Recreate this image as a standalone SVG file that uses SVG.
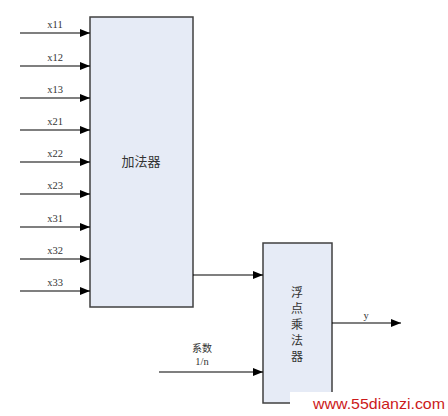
<svg xmlns="http://www.w3.org/2000/svg" width="448" height="416" viewBox="0 0 448 416">
<style>
.box{fill:#e6ebf6;stroke:#404040;stroke-width:1.5}
.ln{stroke:#000;stroke-width:1.2;fill:none}
.lbl{font-family:"Liberation Serif","Noto Sans CJK SC",serif;font-size:10.5px;fill:#333;text-anchor:middle}
.cn{font-family:"Noto Sans CJK SC",sans-serif;font-size:13px;fill:#333;text-anchor:middle}
.cv{font-family:"Noto Sans CJK SC",sans-serif;font-size:12px;fill:#333;text-anchor:middle}
.cn2{font-family:"Noto Sans CJK SC",sans-serif;font-size:10px;fill:#333;text-anchor:middle}
</style>
<defs>
<marker id="ah" markerWidth="10" markerHeight="8" refX="10" refY="4" orient="auto" markerUnits="userSpaceOnUse">
<path d="M0,0 L10,4 L0,8 z" fill="#000"/>
</marker>
</defs>
<rect width="448" height="416" fill="#fff"/>
<g id="adder">
<rect class="box" x="90" y="17" width="103" height="290"/>
<text class="cn" x="141" y="166">加法器</text>
</g>
<g id="multiplier">
<rect class="box" x="263" y="243" width="69" height="160"/>
<text class="cv" x="297" y="297">浮</text>
<text class="cv" x="297" y="313">点</text>
<text class="cv" x="297" y="329">乘</text>
<text class="cv" x="297" y="345">法</text>
<text class="cv" x="297" y="361">器</text>
</g>
<g id="connectors">
<line class="ln" x1="20" y1="33" x2="90" y2="33" marker-end="url(#ah)"/>
<line class="ln" x1="20" y1="66" x2="90" y2="66" marker-end="url(#ah)"/>
<line class="ln" x1="20" y1="98" x2="90" y2="98" marker-end="url(#ah)"/>
<line class="ln" x1="20" y1="130" x2="90" y2="130" marker-end="url(#ah)"/>
<line class="ln" x1="20" y1="162" x2="90" y2="162" marker-end="url(#ah)"/>
<line class="ln" x1="20" y1="194" x2="90" y2="194" marker-end="url(#ah)"/>
<line class="ln" x1="20" y1="227" x2="90" y2="227" marker-end="url(#ah)"/>
<line class="ln" x1="20" y1="259" x2="90" y2="259" marker-end="url(#ah)"/>
<line class="ln" x1="20" y1="291" x2="90" y2="291" marker-end="url(#ah)"/>
<line class="ln" x1="193" y1="275" x2="263" y2="275" marker-end="url(#ah)"/>
<line class="ln" x1="159" y1="372" x2="263" y2="372" marker-end="url(#ah)"/>
<line class="ln" x1="332" y1="323" x2="401" y2="323" marker-end="url(#ah)"/>
</g>
<g id="labels">
<text class="lbl" x="55" y="28">x11</text>
<text class="lbl" x="55" y="61">x12</text>
<text class="lbl" x="55" y="93">x13</text>
<text class="lbl" x="55" y="125">x21</text>
<text class="lbl" x="55" y="157">x22</text>
<text class="lbl" x="55" y="189">x23</text>
<text class="lbl" x="55" y="222">x31</text>
<text class="lbl" x="55" y="254">x32</text>
<text class="lbl" x="55" y="286">x33</text>
<text class="lbl" x="366" y="319">y</text>
<text class="cn2" x="202" y="352">系数</text>
<text class="lbl" x="202" y="365">1/n</text>
</g>
<g id="watermark">
<rect x="290" y="392" width="158" height="24" fill="#fff"/>
<text x="313" y="409" font-family="Liberation Sans,Arial,sans-serif" font-size="15" fill="#cc1a1a" textLength="132" lengthAdjust="spacingAndGlyphs">www.55dianzi.com</text>
</g>
</svg>
